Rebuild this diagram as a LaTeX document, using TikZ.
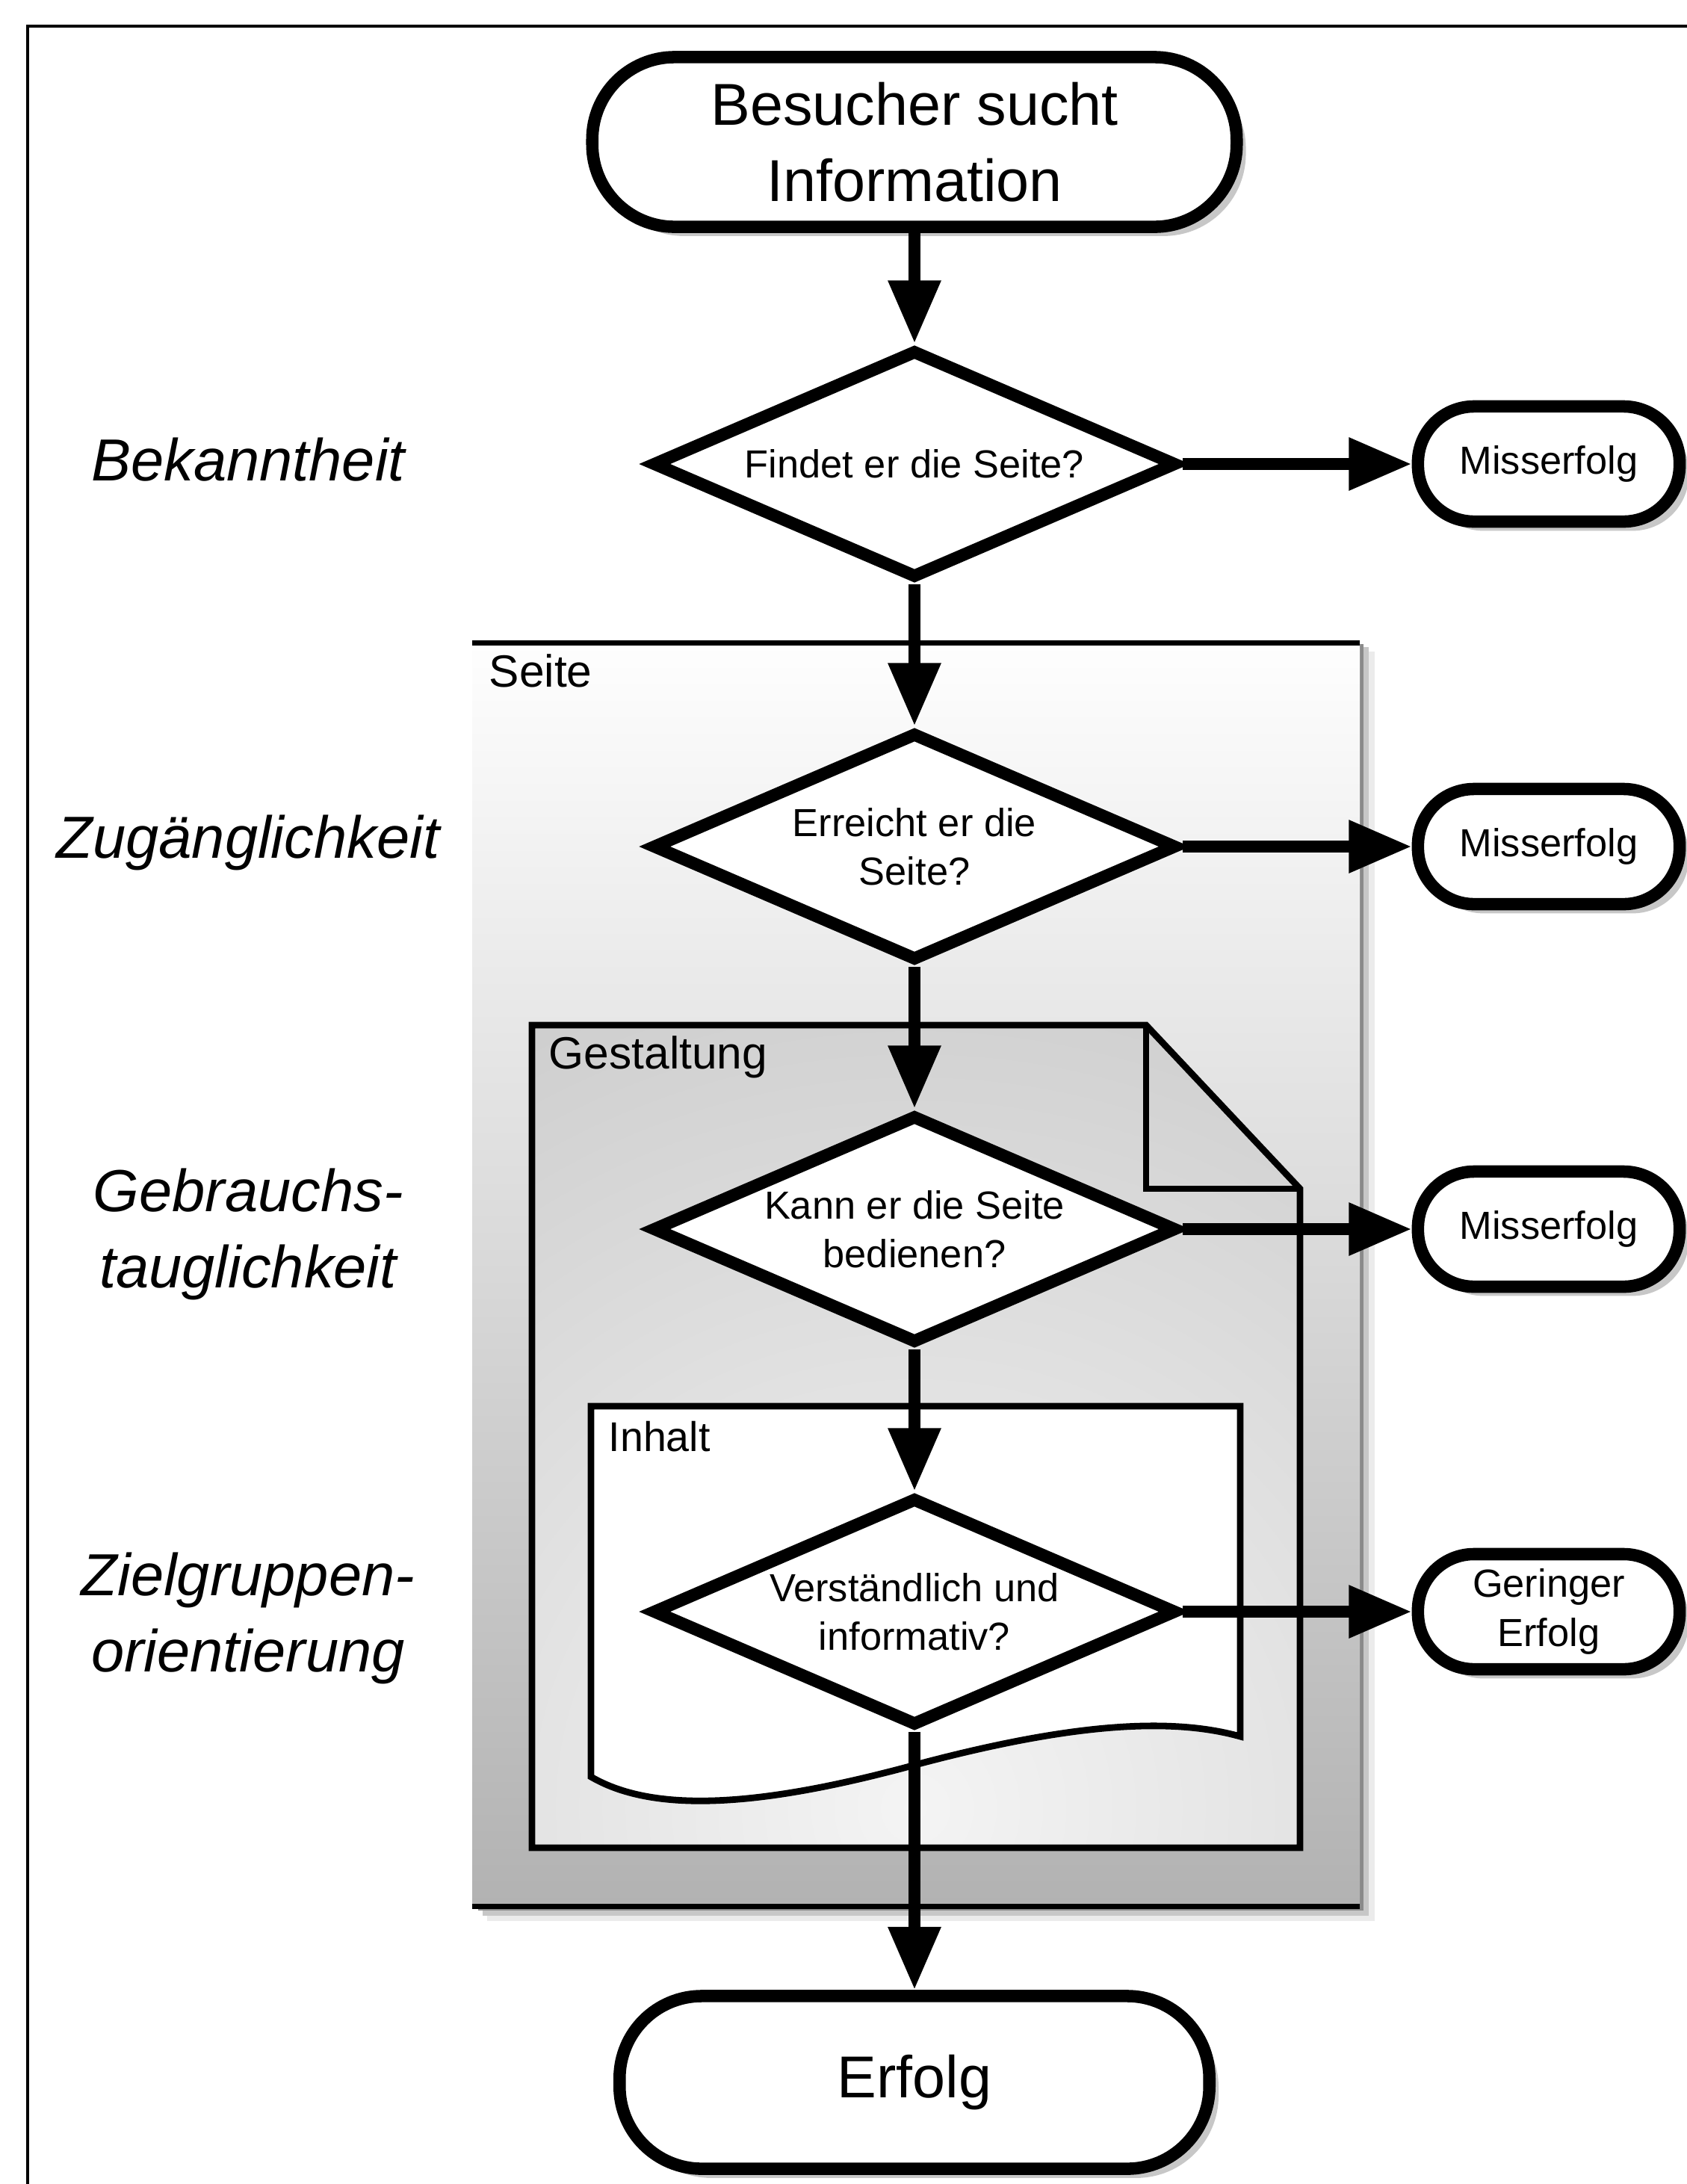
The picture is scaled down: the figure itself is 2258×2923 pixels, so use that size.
\documentclass[tikz,border=0pt]{standalone}
\usepackage{fontspec}
\setmainfont{Liberation Sans}
\usetikzlibrary{shapes.geometric,arrows.meta,shadows}

\definecolor{seitetop}{RGB}{254,254,254}
\definecolor{seitebot}{RGB}{178,178,178}
\definecolor{gestin}{RGB}{244,244,244}
\definecolor{gestout}{RGB}{186,186,186}

\tikzset{
  term/.style={draw, line width=4.7pt, fill=white, align=center, inner sep=0pt,
    drop shadow={shadow xshift=3.5pt, shadow yshift=-3.5pt, opacity=0.22, fill=black}},
  bigterm/.style={term, minimum width=8.62cm, minimum height=2.27cm, rounded corners=1.1cm,
    font=\fontsize{22.5}{29}\selectfont},
  smallterm/.style={term, minimum width=3.5cm, minimum height=1.54cm, rounded corners=0.75cm,
    font=\fontsize{14.9}{18.6}\selectfont},
  decision/.style={diamond, draw, line width=4.7pt, fill=white, minimum width=7.02cm,
    minimum height=3.06cm, aspect=2.3, inner sep=1pt, align=center,
    font=\fontsize{14.9}{18.6}\selectfont},
  flow/.style={line width=4.7pt, -{Triangle[length=24pt,width=19pt]}},
  phase/.style={font=\fontsize{22.6}{29}\selectfont\itshape, align=center},
  contlabel/.style={anchor=base west, inner sep=0pt, font=\fontsize{17.2}{20}\selectfont},
  contline/.style={line width=2.5pt},
}

\begin{document}
\begin{tikzpicture}[x=0.01cm, y=-0.01cm]
\useasboundingbox (0,0) rectangle (2258,2923);

% outer frame (top and left edges)
\draw[line width=1.2pt] (37,2923) -- (37,35) -- (2258,35);

% ---- Seite container ----
\fill[black!8]  (652,872) rectangle (1840,2571);
\fill[black!22] (646,866) rectangle (1832,2564);
\fill[black!46] (640,862) rectangle (1825,2557);
\shade[top color=seitetop, bottom color=seitebot] (632,860) rectangle (1820,2551);
\draw[line width=2pt] (632,860) -- (1820,860);
\draw[line width=2pt] (632,2551) -- (1820,2551);
\node[contlabel] (lseite) at (654,919) {Seite};

% ---- Gestaltung container ----
\begin{scope}
  \clip (712,1372) -- (1534,1372) -- (1740,1591) -- (1740,2473) -- (712,2473) -- cycle;
  \shade[inner color=gestin, outer color=gestout] (1225,2420) circle (18cm);
\end{scope}
\draw[contline] (712,1372) -- (1534,1372) -- (1740,1591) -- (1740,2473) -- (712,2473) -- cycle;
\draw[contline] (1534,1372) -- (1534,1591) -- (1740,1591);
\node[contlabel] (lgest) at (734,1430) {Gestaltung};

% ---- Inhalt container ----
\draw[contline, fill=white] (791,1882) -- (1660,1882) -- (1660,2324)
  .. controls (1560,2296) and (1420,2310) .. (1225,2362)
  .. controls (1030,2415) and (880,2430) .. (791,2378) -- cycle;
\node[contlabel, font=\fontsize{15.8}{19}\selectfont] (linhalt) at (814,1942) {Inhalt};

% ---- phase labels ----
\node[phase] (p1) at (332,615) {Bekanntheit};
\node[phase] (p2) at (332,1128) {Zugänglichkeit};
\node[phase] (p3) at (332,1652) {Gebrauchs-\\tauglichkeit};
\node[phase] (p4) at (332,2166) {Zielgruppen-\\orientierung};

% ---- flow nodes ----
\node[bigterm] (start) at (1224,190) {Besucher sucht\\Information};
\node[decision] (d1) at (1224,621) {Findet er die Seite?};
\node[decision] (d2) at (1224,1133) {Erreicht er die\\Seite?};
\node[decision] (d3) at (1224,1645) {Kann er die Seite\\bedienen?};
\node[decision] (d4) at (1224,2157) {Verständlich und\\informativ?};
\node[bigterm, minimum width=7.89cm, minimum height=2.31cm] (erfolg) at (1224,2787) {Erfolg};

\node[smallterm] (m1) at (2073,621) {Misserfolg};
\node[smallterm] (m2) at (2073,1133) {Misserfolg};
\node[smallterm] (m3) at (2073,1645) {Misserfolg};
\node[smallterm] (m4) at (2073,2157) {Geringer\\Erfolg};

% ---- connectors ----
\draw[flow] (start.south) -- (d1.north);
\draw[flow] (d1.south) -- (d2.north);
\draw[flow] (d2.south) -- (d3.north);
\draw[flow] (d3.south) -- (d4.north);
\draw[flow] (d4.south) -- (erfolg.north);
\draw[flow] (d1.east) -- (m1.west);
\draw[flow] (d2.east) -- (m2.west);
\draw[flow] (d3.east) -- (m3.west);
\draw[flow] (d4.east) -- (m4.west);
\end{tikzpicture}
\end{document}
